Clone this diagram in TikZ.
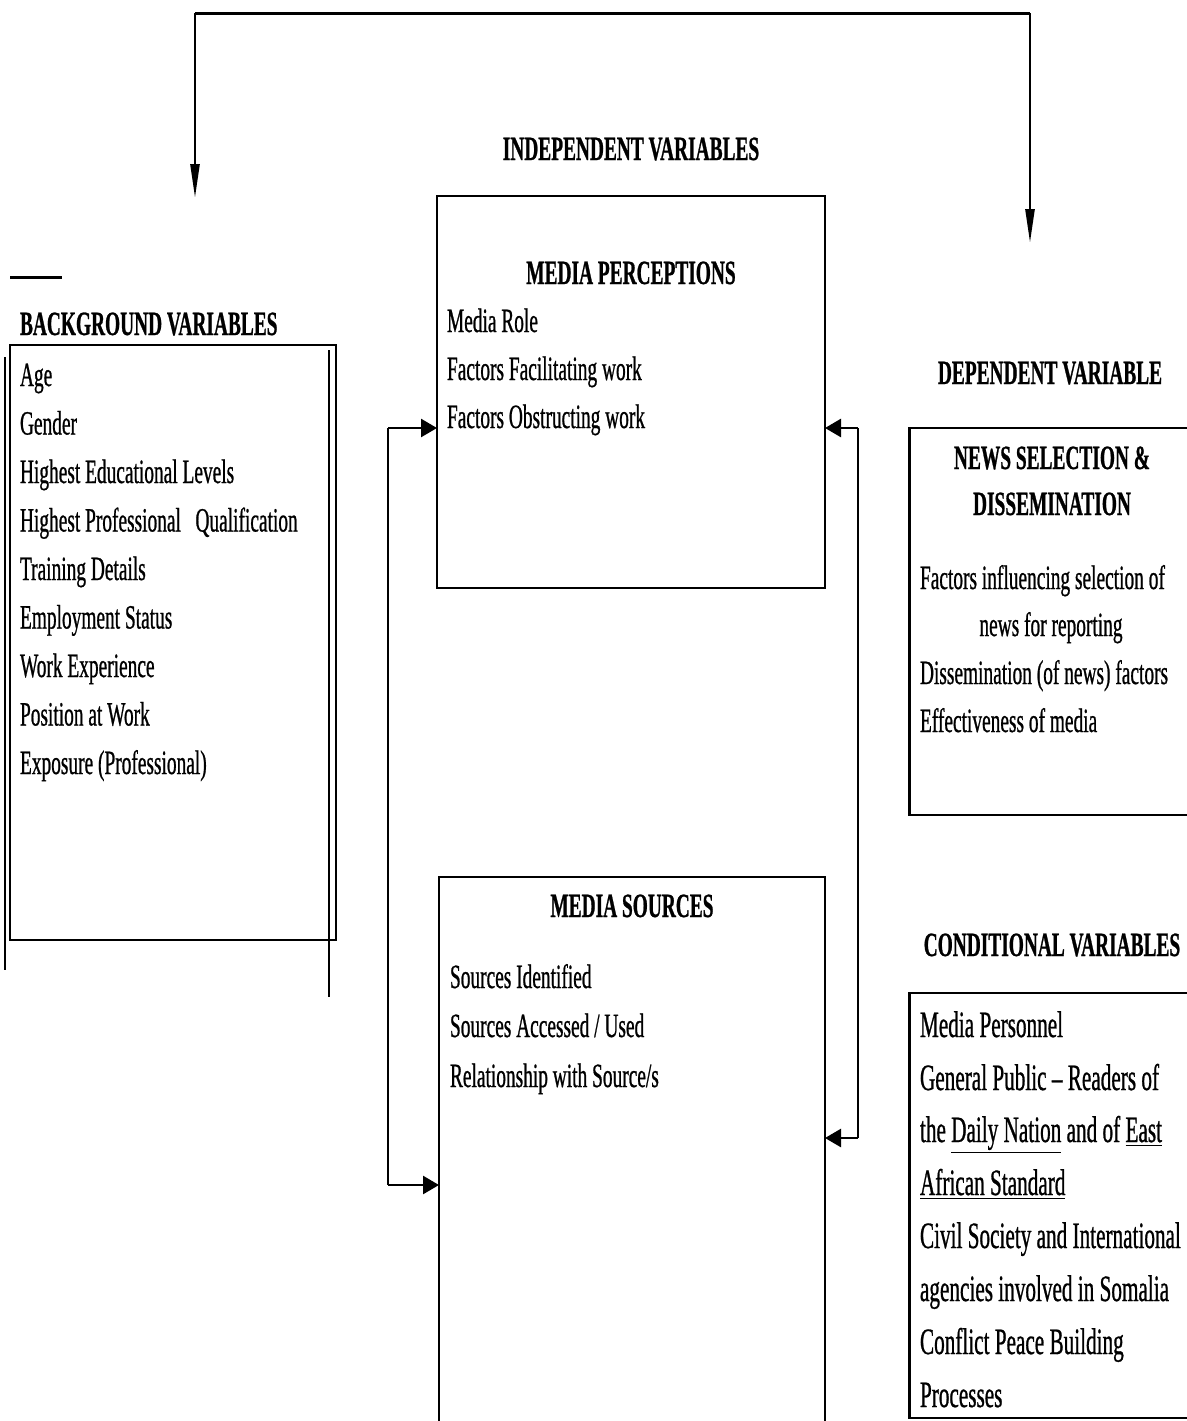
\documentclass[tikz,border=0pt]{standalone}
\usepackage{fontspec}
\setmainfont{Liberation Serif}[FakeStretch=0.57,FakeBold=0.7]
\usetikzlibrary{arrows.meta}
\newcommand{\ul}[1]{\underline{#1}}
\begin{document}
\begin{tikzpicture}[x=0.5pt,y=-0.5pt,
  every node/.style={inner sep=0pt,outer sep=0pt},
  txt/.style={font=\fontsize{17}{20}\selectfont,anchor=base west},
  ctxt/.style={font=\fontsize{18.6}{21}\selectfont,anchor=base west},
  hd/.style={font=\fontsize{17}{20}\selectfont\bfseries,anchor=base},
  boxline/.style={line width=1.3pt},
  conn/.style={line width=1pt},
  toparr/.style={line width=1.3pt,-{Triangle[length=17pt,width=4.5pt]}},
  sidearr/.style={line width=1.3pt,-{Triangle[length=8pt,width=9pt]}}]
\useasboundingbox (0,0) rectangle (1187,1421);

% boxes
\node[draw,boxline,minimum width=194pt,minimum height=196pt] (mp) at (631,392) {};
\node[draw,boxline,minimum width=163pt,minimum height=297.5pt] (bg) at (173,642.5) {};
\node[minimum width=193pt,minimum height=272pt] (ms) at (632,1149) {};
\draw[boxline] (ms.south west) -- (ms.north west) -- (ms.north east) -- (ms.south east);
\node[minimum width=138.5pt,minimum height=193.5pt] (ns) at (1048.25,621.5) {};
\draw[boxline] (ns.north east) -- (ns.north west) -- (ns.south west) -- (ns.south east);
\node[minimum width=138.5pt,minimum height=212.5pt] (cv) at (1048.25,1205.5) {};
\draw[boxline] (cv.north east) -- (cv.north west) -- (cv.south west) -- (cv.south east);

% stray lines by the background box
\coordinate (d1) at (10,277); \coordinate (d2) at (62,277);
\draw[line width=1.5pt] (d1) -- (d2);
\coordinate (e1) at (5,357); \coordinate (e2) at (5,970);
\draw[conn] (e1) -- (e2);
\coordinate (f1) at (329,350); \coordinate (f2) at (329,997);
\draw[conn] (f1) -- (f2);

% headings
\node[hd] (h1) at (631,160) {INDEPENDENT VARIABLES};
\node[hd] (h2) at (631,284) {MEDIA PERCEPTIONS};
\node[hd,anchor=base west] (h3) at (20,335) {BACKGROUND VARIABLES};
\node[hd] (h4) at (1050,384) {DEPENDENT VARIABLE};
\node[hd] (h5) at (1052,469) {NEWS SELECTION \&};
\node[hd] (h6) at (1052,515) {DISSEMINATION};
\node[hd] (h7) at (632,917) {MEDIA SOURCES};
\node[hd] (h8) at (1052,956) {CONDITIONAL VARIABLES};

% background items
\foreach \t [count=\i from 0] in {Age,Gender,Highest Educational Levels,Highest Professional\ \ \ Qualification,Training Details,Employment Status,Work Experience,Position at Work,Exposure (Professional)}
  \node[txt] (b\i) at (20,386+48.5*\i) {\t};

% media perceptions items
\node[txt] (p1) at (447,332) {Media Role};
\node[txt] (p2) at (447,380) {Factors Facilitating work};
\node[txt] (p3) at (447,428) {Factors Obstructing work};

% media sources items
\node[txt] (s1) at (450,988) {Sources Identified};
\node[txt] (s2) at (450,1037) {Sources Accessed / Used};
\node[txt] (s3) at (450,1087) {Relationship with Source/s};

% news selection items
\node[txt] (n1) at (920,589) {Factors influencing selection of};
\node[txt,anchor=base] (n2) at (1051,636) {news for reporting};
\node[txt] (n3) at (920,684) {Dissemination (of news) factors};
\node[txt] (n4) at (920,732) {Effectiveness of media};

% conditional items
\node[ctxt] (c1) at (920,1037) {Media Personnel};
\node[ctxt] (c2) at (920,1090) {General Public -- Readers of};
\node[ctxt] (c3) at (920,1142) {the \ul{Daily Nation} and of \ul{East}};
\node[ctxt] (c4) at (920,1195) {\ul{African Standard}};
\node[ctxt] (c5) at (920,1248) {Civil Society and International};
\node[ctxt] (c6) at (920,1301) {agencies involved in Somalia};
\node[ctxt] (c7) at (920,1354) {Conflict Peace Building};
\node[ctxt] (c8) at (920,1407) {Processes};

% top connector
\coordinate (T1) at (195,13);
\coordinate (T2) at (1030,13);
\coordinate (A1) at (195,198);
\coordinate (A2) at (1030,243);
\draw[line width=1.5pt] (T1) -- (T2);
\draw[toparr] (T1) -- (A1);
\draw[toparr] (T2) -- (A2);

% left connector
\coordinate (L1) at (388,428);
\coordinate (L2) at (388,1185);
\draw[conn] (L1) -- (L2);
\draw[sidearr] (L1) -- (L1 -| mp.west);
\draw[sidearr] (L2) -- (L2 -| ms.west);

% right connector
\coordinate (R1) at (858,428);
\coordinate (R2) at (858,1138);
\draw[conn] (R1) -- (R2);
\draw[sidearr] (R1) -- (R1 -| mp.east);
\draw[sidearr] (R2) -- (R2 -| ms.east);
\end{tikzpicture}
\end{document}
